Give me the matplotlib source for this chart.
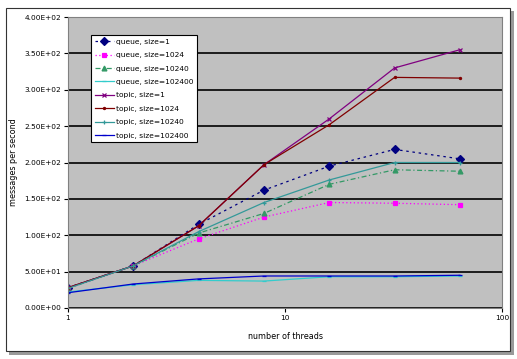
import matplotlib.pyplot as plt
from matplotlib.patches import Rectangle
from matplotlib.ticker import FuncFormatter

threads = [1, 2, 4, 8, 16, 32, 64]

queue_1 = [28, 58, 115, 162, 195, 218, 205]
queue_1024 = [27, 58, 95, 125, 145, 144, 142]
queue_10240 = [27, 58, 103, 130, 170, 190, 188]
queue_102400 = [22, 32, 38, 37, 43, 43, 44]
topic_1 = [28, 58, 113, 197, 260, 330, 355]
topic_1024 = [28, 58, 113, 197, 252, 317, 316]
topic_10240 = [27, 58, 105, 145, 176, 200, 200]
topic_102400 = [21, 33, 40, 44, 44, 44, 45]

series = [
    ("queue, size=1", queue_1, "#000080", (0, (2, 3)), "D", 4),
    ("queue, size=1024", queue_1024, "#FF00FF", (0, (1, 2)), "s", 3),
    ("queue, size=10240", queue_10240, "#339966", (0, (4, 2, 1, 2)), "^", 3.5),
    ("queue, size=102400", queue_102400, "#33CCCC", "-", "_", 3),
    ("topic, size=1", topic_1, "#800080", "-", "x", 3.5),
    ("topic, size=1024", topic_1024, "#800000", "-", ".", 3),
    ("topic, size=10240", topic_10240, "#339999", "-", "+", 3.5),
    ("topic, size=102400", topic_102400, "#0000CC", "-", "_", 3),
]

fig = plt.figure(figsize=(5.17, 3.59), dpi=100)
fig.patch.set_facecolor("white")

# outer frame with a little shadow
fig.add_artist(Rectangle((9 / 517, 4 / 359), 505 / 517, 344 / 359,
                         transform=fig.transFigure, facecolor="#9a9a9a",
                         edgecolor="none", zorder=0))
fig.add_artist(Rectangle((6 / 517, 8 / 359), 504 / 517, 343 / 359,
                         transform=fig.transFigure, facecolor="white",
                         edgecolor="#333333", linewidth=0.8, zorder=0))

ax = fig.add_axes([68 / 517, 51 / 359, 434 / 517, 291 / 359])
ax.set_facecolor("#C0C0C0")
for s in ax.spines.values():
    s.set_color("#808080")
    s.set_linewidth(0.8)

for label, vals, color, ls, mk, ms in series:
    ax.plot(threads, vals, color=color, linestyle=ls, linewidth=0.9,
            marker=mk, markersize=ms, markeredgewidth=0.9, label=label)

ax.set_xscale("log")
ax.set_xlim(1, 100)
ax.set_ylim(0, 400)
ax.set_yticks(range(0, 401, 50))
ax.set_xticks([1, 10, 100])
ax.set_xticks([], minor=True)
ax.xaxis.set_major_formatter(FuncFormatter(lambda v, p: f"{v:g}"))
ax.yaxis.set_major_formatter(FuncFormatter(lambda v, p: f"{v:.2E}"))
ax.yaxis.grid(True, color="black", linewidth=1.2)
ax.set_axisbelow(True)
ax.tick_params(labelsize=5.3, length=3, color="black", pad=2)

ax.set_xlabel("number of threads", fontsize=5.8, labelpad=8)
ax.set_ylabel("messages per second", fontsize=5.8)
ax.yaxis.set_label_coords(-0.115, 0.5)

leg = ax.legend(loc="upper left", bbox_to_anchor=(0.045, 0.95), fontsize=5.4,
                frameon=True, fancybox=False, handlelength=2.6,
                labelspacing=0.95, borderpad=0.45, handletextpad=0.3)
leg.get_frame().set_edgecolor("black")
leg.get_frame().set_linewidth(0.8)
leg.get_frame().set_alpha(1)

fig.savefig("out.png", dpi=100)
